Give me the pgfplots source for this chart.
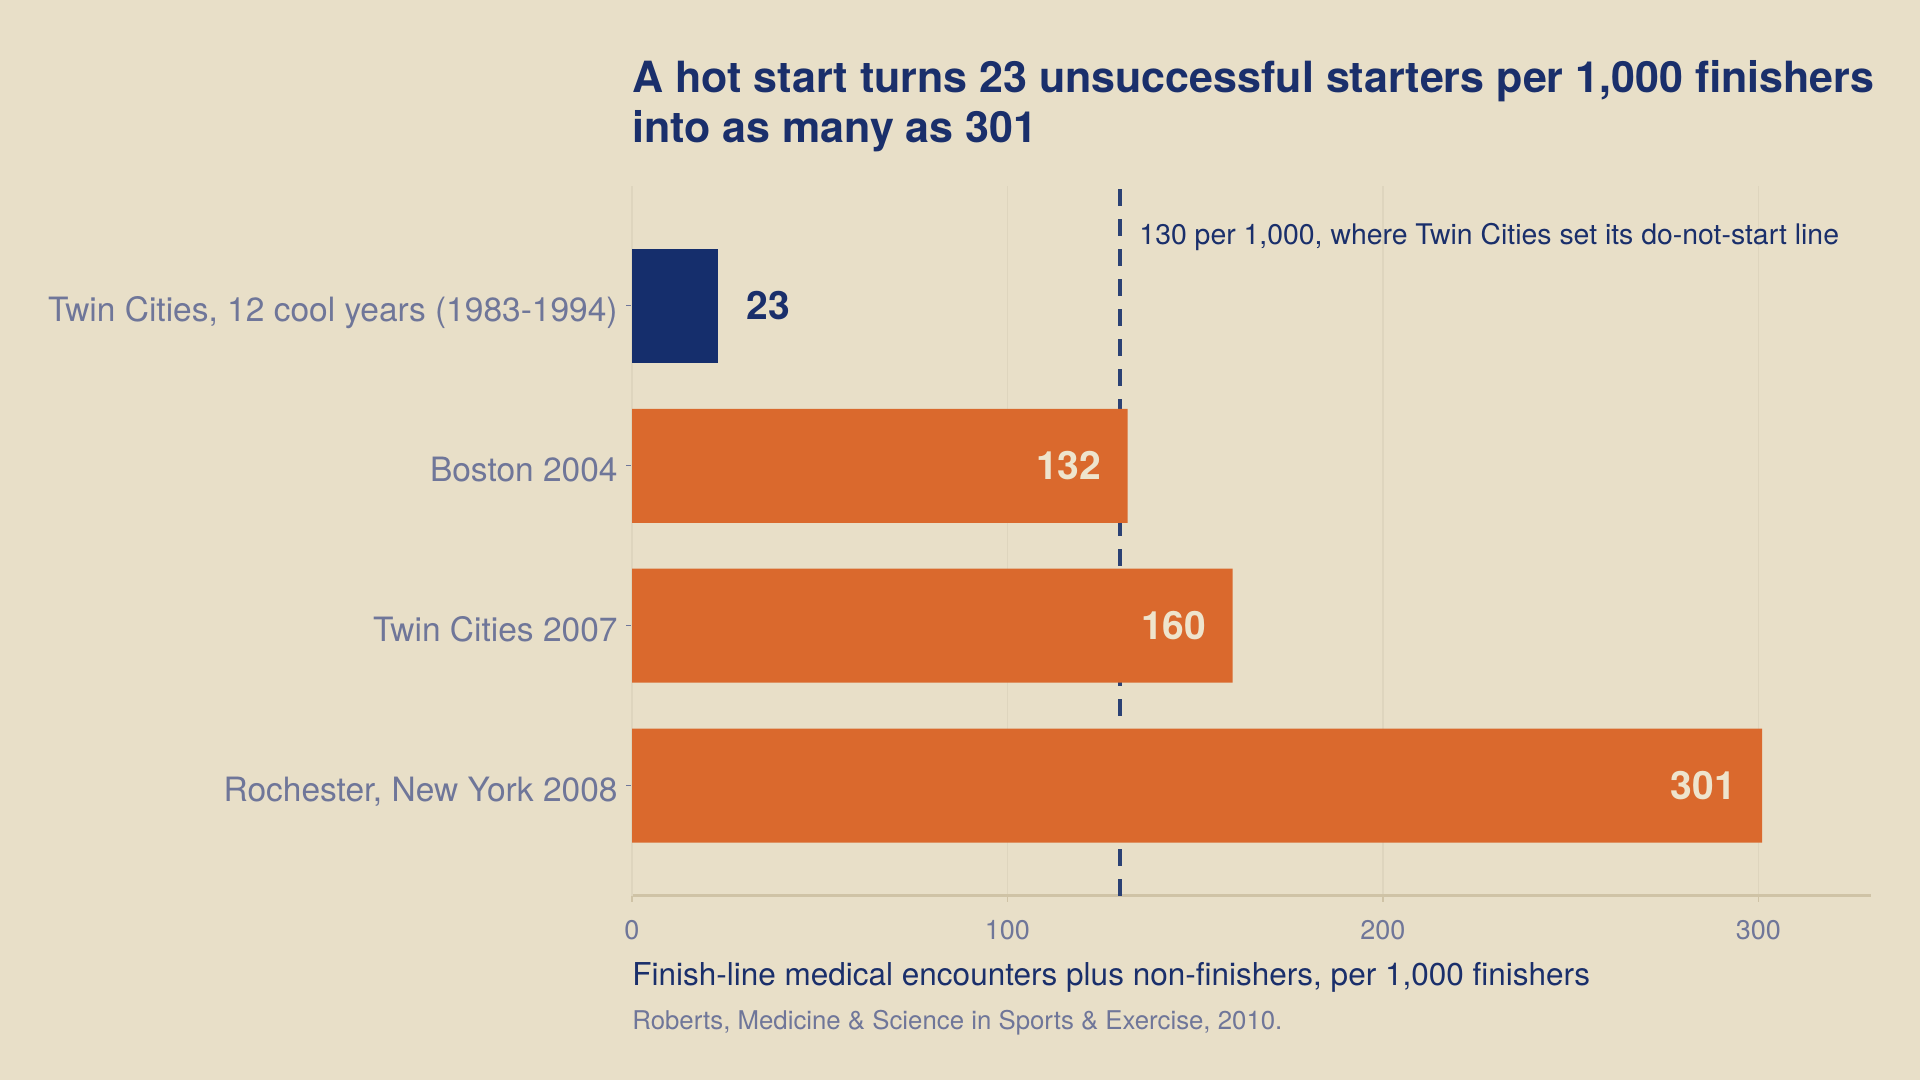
\documentclass[border=0pt]{standalone}
\usepackage{fontspec}
\setmainfont{TeX Gyre Heros}
\usepackage{pgfplots}
\pgfplotsset{compat=1.18}

\definecolor{bg}{HTML}{E8DFC8}
\definecolor{navy}{HTML}{1A2F6B}
\definecolor{navybar}{HTML}{152E6C}
\definecolor{dashc}{HTML}{2B4174}
\definecolor{orange}{HTML}{DA692D}
\definecolor{labelc}{HTML}{6F7699}
\definecolor{lightc}{HTML}{EEE4CD}
\definecolor{gridc}{HTML}{DED5BE}
\definecolor{axisc}{HTML}{CFC3A6}

\begin{document}
\begin{tikzpicture}[x=1pt,y=1pt]
\fill[bg] (0,0) rectangle (960,540);
\useasboundingbox (0,0) rectangle (960,540);

\begin{axis}[
  at={(316pt,92pt)}, anchor=south west,
  scale only axis, width=619.5pt, height=355pt,
  xmin=0, xmax=330, ymin=-0.69, ymax=3.75,
  axis x line*=bottom, axis y line*=left,
  x axis line style={draw=axisc, line width=1.5pt, -},
  y axis line style={draw=gridc, line width=0.8pt, -},
  xtick={0,100,200,300},
  ytick={0,1,2,3},
  yticklabels={{Rochester, New York 2008},{Twin Cities 2007},{Boston 2004},{Twin Cities, 12 cool years (1983-1994)}},
  xmajorgrids,
  major grid style={draw=gridc, line width=0.8pt},
  tick align=outside, major tick length=3pt,
  xtick style={draw=axisc, line width=0.6pt},
  ytick style={draw=labelc, line width=0.5pt},
  /pgf/number format/assume math mode=true,
  xticklabel style={font=\fontsize{13.5}{16}\selectfont, text=labelc, anchor=base, inner sep=0pt, yshift=-19pt},
  yticklabel style={font=\fontsize{16.75}{20}\selectfont, text=labelc, anchor=base east, inner sep=0pt, xshift=-4pt, yshift=-7.9pt},
  clip=false,
]
% do-not-start threshold, drawn beneath the bars
\addplot[dashc, line width=1.6pt, dash pattern=on 8.5pt off 6.5pt] coordinates {(130,-0.69) (130,3.75)};

% cool-year baseline
\addplot[xbar, bar width=57pt, bar shift=0pt, fill=navybar, draw=none,
  nodes near coords,
  nodes near coords style={anchor=west, inner sep=0pt, xshift=14pt, text=navy, font=\fontsize{19.5}{22}\bfseries}]
  coordinates {(23,3)};

% hot-start races
\addplot[xbar, bar width=57pt, bar shift=0pt, fill=orange, draw=none,
  nodes near coords,
  nodes near coords style={anchor=east, inner sep=0pt, xshift=-13pt, text=lightc, font=\fontsize{19.5}{22}\bfseries}]
  coordinates {(132,2) (160,1) (301,0)};

\node[anchor=base west, inner sep=0pt, xshift=9.5pt, yshift=-29.5pt, text=navy, font=\fontsize{14.2}{17}\selectfont]
  at (axis cs:130,3.75) {130 per 1,000, where Twin Cities set its do-not-start line};
\end{axis}

\node[anchor=base west, inner sep=0pt, text=navy, font=\fontsize{21.5}{25}\selectfont\bfseries]
  at (316,493.5) {A hot start turns 23 unsuccessful starters per 1,000 finishers};
\node[anchor=base west, inner sep=0pt, text=navy, font=\fontsize{21.5}{25}\selectfont\bfseries]
  at (316,468.5) {into as many as 301};
\node[anchor=base west, inner sep=0pt, text=navy, font=\fontsize{15.75}{19}\selectfont]
  at (316,47) {Finish-line medical encounters plus non-finishers, per 1,000 finishers};
\node[anchor=base west, inner sep=0pt, text=labelc, font=\fontsize{12.9}{15}\selectfont]
  at (316,25) {Roberts, Medicine \& Science in Sports \& Exercise, 2010.};
\end{tikzpicture}
\end{document}
